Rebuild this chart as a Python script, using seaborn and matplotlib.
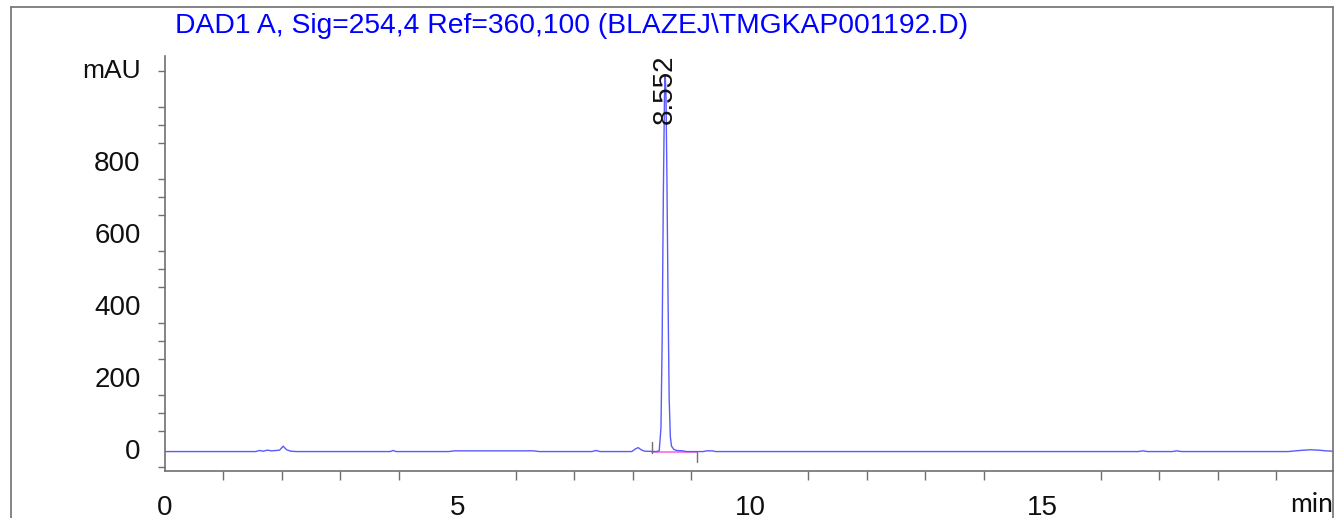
import matplotlib
matplotlib.use("Agg")
import matplotlib.pyplot as plt
from matplotlib.lines import Line2D
from matplotlib.ticker import MultipleLocator
import numpy as np
import pandas as pd
import seaborn as sns

# Chromatogram trace (retention time in min, absorbance in mAU)
time_min = [0.00, 1.55, 1.62, 1.68, 1.75, 1.82, 1.90, 1.96, 2.02, 2.08, 2.15, 2.25,
            3.85, 3.90, 3.95, 4.85, 4.95, 5.60, 6.30, 6.40,
            7.30, 7.37, 7.44, 7.98, 8.04, 8.09, 8.14, 8.20, 8.40,
            8.45, 8.48, 8.50, 8.52, 8.54, 8.552, 8.565, 8.58, 8.60, 8.62, 8.64,
            8.66, 8.70, 8.75, 8.85, 8.92, 9.20, 9.26, 9.35, 9.42,
            16.64, 16.72, 16.80, 17.22, 17.30, 17.38,
            19.20, 19.40, 19.57, 19.72, 19.85, 19.97]
signal_mau = [-7, -7, -4, -6, -3, -5, -4, -3, 8, -2, -6, -7,
              -7, -4, -7, -7, -5, -5, -5, -7,
              -7, -4, -7, -7, 0, 4, -2, -6, -7,
              -5, 60, 300, 700, 980, 1040, 990, 780, 430, 140, 35,
              8, -1, -4, -5, -7, -7, -5, -5, -7,
              -7, -5, -7, -7, -5, -7,
              -7, -4, -2, -3, -5, -6]

# Integrated peak annotation
peak_rt = 8.552
peak_label_y = 903
integ_start, integ_end = 8.33, 9.09
integ_baseline = -8

title = r"DAD1 A, Sig=254,4 Ref=360,100 (BLAZEJ\TMGKAP001192.D)"
ytick_values = [0, 200, 400, 600, 800, 1000]
ytick_labels = ["0", "200", "400", "600", "800", ""]
xtick_values = [0, 5, 10, 15]
xtick_labels = ["0", "5", "10", "15"]

sns.set_style("white")
plt.rcParams["font.family"] = ["Liberation Sans", "DejaVu Sans"]

W, H = 1338, 518
fig = plt.figure(figsize=(W / 100, H / 100), dpi=100)
ax = fig.add_axes([165 / W, 1 - 471 / H, (1333 - 165) / W, (471 - 56) / H])

df = pd.DataFrame({"time": time_min, "signal": signal_mau})
sns.lineplot(data=df, x="time", y="signal", ax=ax, color="#5a5aff",
             linewidth=1.0, sort=False, estimator=None)

# integration baseline and start/end markers
ax.plot([integ_start, integ_end], [integ_baseline, integ_baseline],
        color="#ff80e0", linewidth=1.4, zorder=1)
ax.plot([integ_start, integ_start], [integ_baseline - 2, 20], color="#707070", linewidth=1.0)
ax.plot([integ_end, integ_end], [integ_baseline, -36], color="#707070", linewidth=1.0)

ax.text(peak_rt, peak_label_y, f"{peak_rt:.3f}", rotation=90, ha="center",
        va="bottom", fontsize=20, color="#101010")

ax.set_xlim(0, 19.97)
ax.set_ylim(-61, 1092)
ax.set_xticks(xtick_values)
ax.set_xticklabels(xtick_labels)
ax.set_yticks(ytick_values)
ax.set_yticklabels(ytick_labels)
ax.xaxis.set_minor_locator(MultipleLocator(1))
ax.yaxis.set_minor_locator(MultipleLocator(50))
ax.set_xlabel("")
ax.set_ylabel("")

for side in ("top", "right"):
    ax.spines[side].set_visible(False)
for side in ("left", "bottom"):
    ax.spines[side].set_color("#707070")
    ax.spines[side].set_linewidth(1.2)

ax.tick_params(axis="both", which="both", direction="out", color="#707070",
               width=1.0, labelsize=20, labelcolor="#101010")
ax.tick_params(axis="y", which="major", length=11.5, pad=6)
ax.tick_params(axis="y", which="minor", length=5, left=True)
ax.tick_params(axis="x", which="major", length=12, pad=5)
ax.tick_params(axis="x", which="minor", length=6.5, bottom=True)

ax.text(-0.0205, 1050, "mAU", transform=ax.get_yaxis_transform(), ha="right",
        va="center", fontsize=19, color="#101010")

fig.text(175 / W, 1 - 26 / H, title, ha="left", va="center", fontsize=20.3,
         color="#0000ff")
fig.text(1333 / W, 1 - 504 / H, "min", ha="right", va="center", fontsize=19,
         color="#101010", family=["Lato", "DejaVu Sans"])

# outer frame
frame_kw = dict(color="#707070", linewidth=1.2, transform=fig.transFigure)
fig.add_artist(Line2D([11 / W, 1333 / W], [1 - 7 / H, 1 - 7 / H], **frame_kw))
fig.add_artist(Line2D([11 / W, 11 / W], [1 - 7 / H, 0], **frame_kw))
fig.add_artist(Line2D([1333 / W, 1333 / W], [1 - 7 / H, 0], **frame_kw))

fig.savefig("out.png", dpi=100, facecolor="white")
